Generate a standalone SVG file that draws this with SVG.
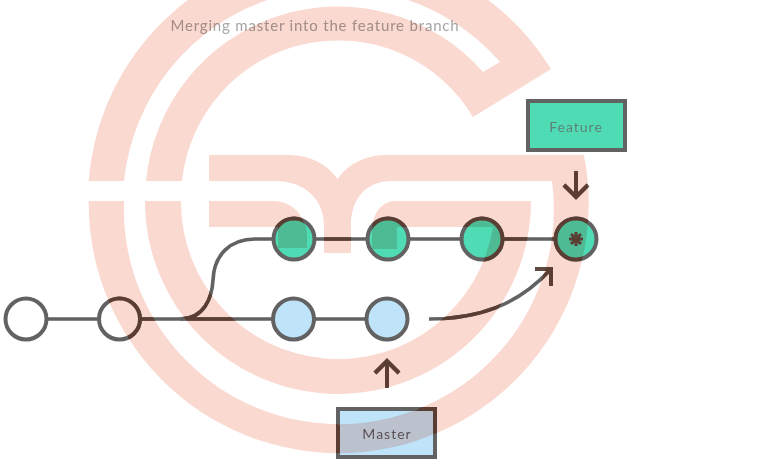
<svg xmlns="http://www.w3.org/2000/svg" width="778" height="466" viewBox="0 0 778 466">
<style>
.ln{fill:none;stroke:var(--s,#626262);stroke-width:3.600}
.ar{fill:none;stroke:#5c493f;stroke-width:4}
.c{stroke:var(--s,#626262);stroke-width:4}
.w{fill:#fff}.g{fill:#4fdcb5}.b{fill:#bfe4fa}
.t{font-family:"Lato","Liberation Sans",sans-serif;font-size:14px;text-anchor:middle;letter-spacing:1px}
.wm{fill:#fad9d1}
#watermark{mix-blend-mode:multiply}
#tinted{--s:#5c493f}
</style>
<defs>
<path id="w1" d="M88.700 181A250 250 0 0 1 551 69L473 117A157 157 0 0 0 182 181H146A193 193 0 0 1 483 72L500 62A215 215 0 0 0 124 181Z"/>
<path id="w2" d="M88.700 201A250 250 0 1 0 584 155H385C365 155 348 164 337.500 179C327 164 310 155 290 155H209V181H275C305 181 324 200 324 225V253H351V225C351 200 365 181 392 181H552A215 215 0 1 1 124 201Z"/>
<path id="w3" d="M145 201A193 193 0 0 0 531 201H393C380 203 372 215 372 232V249H397V227H493A157 157 0 0 1 181 201Z"/>
<path id="w4" d="M209 201H273C290 201 303 212 307 232V248H278V227H209Z"/>
<clipPath id="wc"><use href="#w1"/><use href="#w2"/><use href="#w3"/><use href="#w4"/></clipPath>
</defs>
<rect width="778" height="466" fill="#fff"/>
<g id="title"><text class="t" x="315" y="31" fill="#a6a6a6" style="font-size:15px;letter-spacing:.82px">Merging master into the feature branch</text></g>
<g id="connectors">
<path class="ln" d="M46 319H98M140 319H273M315 239H367M409 239H461M503 239H556M315 319H367"/>
<path class="ln" d="M180 319C204 319 212 298 213 280C214 255 230 239 255 239H273"/>
<path class="ln" d="M429 319C478 319 518 305 550 270"/>
<path class="ar" d="M535 269H551V286"/>
<path class="ar" d="M576 171V197M564 185L576 197L588 185"/>
<path class="ar" d="M387 388V362M375 373L387 361L399 373"/>
</g>
<g id="nodes">
<g id="c-a"><circle class="c w" cx="26" cy="319" r="20.500"/></g>
<g id="c-b"><circle class="c w" cx="119.500" cy="319" r="20.500"/></g>
<g id="m-1"><circle class="c b" cx="293.500" cy="319" r="20.500"/></g>
<g id="m-2"><circle class="c b" cx="387" cy="319" r="20.500"/></g>
<g id="f-1"><circle class="c g" cx="294" cy="239" r="20.500"/></g>
<g id="f-2"><circle class="c g" cx="388" cy="239" r="20.500"/></g>
<g id="f-3"><circle class="c g" cx="482" cy="239" r="20.500"/></g>
<g id="f-4"><circle class="c g" cx="576" cy="239" r="20.500"/>
<path d="M576 232V246M569 239H583M571 234L581 244M581 234L571 244" fill="none" stroke="#5c493f" stroke-width="3"/><circle cx="576" cy="239" r="4" fill="#5c493f"/></g>
</g>
<g id="feature"><rect x="528" y="101" width="97" height="49" fill="#4fdcb5" stroke="#626262" stroke-width="4"/><text class="t" x="576" y="132" fill="#5f8078">Feature</text></g>
<g id="master"><rect x="338" y="409" width="97" height="48" fill="#bfe4fa" stroke="var(--s,#626262)" stroke-width="4"/><text class="t" x="387" y="439" fill="#5e5e66">Master</text></g>
<g id="tinted" clip-path="url(#wc)"><use href="#connectors"/><use href="#nodes"/><use href="#master"/></g>
<g id="watermark">
<use href="#w1" class="wm"/>
<use href="#w2" class="wm"/>
<use href="#w3" class="wm"/>
<use href="#w4" class="wm"/>
</g>
</svg>
